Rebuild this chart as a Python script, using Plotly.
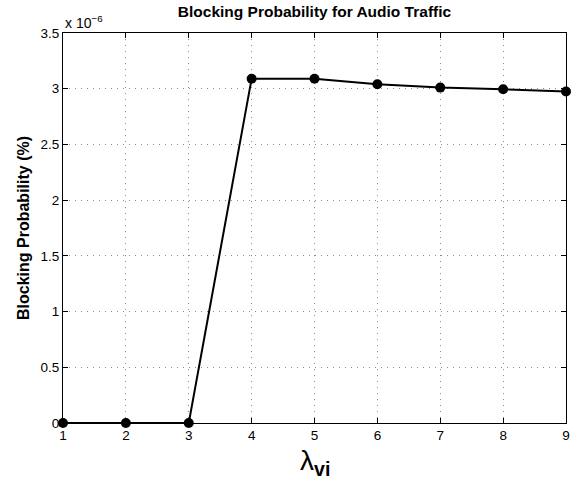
import plotly.graph_objects as go

x_vals = [1, 2, 3, 4, 5, 6, 7, 8, 9]
y_vals = [0, 0, 0, 3.09, 3.09, 3.04, 3.01, 2.995, 2.975]  # x 1e-6
y_ticks = [0, 0.5, 1, 1.5, 2, 2.5, 3, 3.5]
y_ticklabels = ["0", "0.5", "1", "1.5", "2", "2.5", "3", "3.5"]

FONT = "Liberation Sans, Arial, sans-serif"

fig = go.Figure()
fig.add_trace(go.Scatter(
    x=x_vals, y=y_vals, mode="lines+markers",
    line=dict(color="black", width=2),
    marker=dict(color="black", size=10),
    cliponaxis=False, showlegend=False))

axis_common = dict(
    showline=True, linecolor="black", linewidth=1, mirror="ticks",
    ticks="inside", ticklen=5, tickcolor="black",
    showgrid=True, gridcolor="#8c8c8c", griddash="1px,5px", gridwidth=1,
    zeroline=False, tickfont=dict(family=FONT, size=13.5, color="black"))

fig.update_layout(
    width=574, height=484,
    margin=dict(l=63, r=4, t=33, b=61),
    paper_bgcolor="white", plot_bgcolor="white",
    title=dict(text="<b>Blocking Probability for Audio Traffic</b>",
               font=dict(family=FONT, size=15.5, color="black"),
               x=0.5, xanchor="center", xref="paper", y=1, yref="container",
               yanchor="top", pad=dict(t=6)),
    xaxis=dict(range=[1, 9], tickvals=x_vals, ticklabelstandoff=0, **axis_common),
    yaxis=dict(range=[0, 3.5], tickvals=y_ticks, ticktext=y_ticklabels,
               title=dict(text="<b>Blocking Probability (%)</b>",
                          font=dict(family=FONT, size=16, color="black"), standoff=6),
               **axis_common),
    annotations=[
        dict(text="x 10<sup>−6</sup>", xref="paper", yref="paper", x=0, y=1,
             xanchor="left", yanchor="bottom", showarrow=False, yshift=0,
             font=dict(family=FONT, size=14, color="black")),
        dict(text="λ<sub><b>vi</b></sub>", xref="paper", yref="paper", x=0.5, y=0,
             xanchor="center", yanchor="top", showarrow=False, yshift=-20,
             font=dict(family=FONT, size=28, color="black")),
    ],
)
fig.write_html("out.html")
